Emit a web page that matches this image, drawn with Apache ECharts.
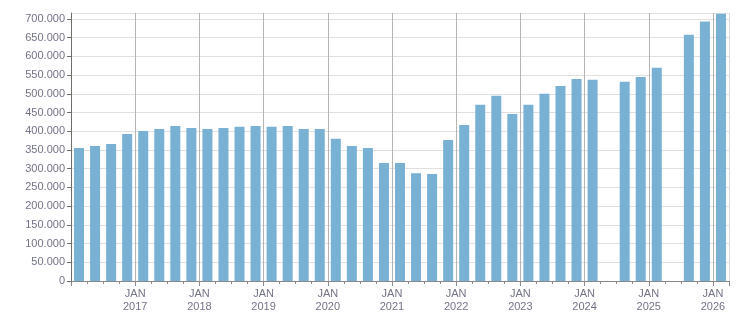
<!DOCTYPE html>
<html>
<head>
<meta charset="utf-8">
<script src="https://cdn.jsdelivr.net/npm/echarts@6/dist/echarts.min.js"></script>
<style>
  html, body { margin: 0; padding: 0; background: #fff; }
  #chart { width: 751px; height: 313px; }
</style>
</head>
<body>
<div id="chart"></div>
<script>
// quarters from Q1 2016 (index 0) to Q1 2026 (index 40), null = no data
var firstYear = 2016;
var values = [
  355, 361, 366, 393, 401, 406, 414, 409, 406, 409, 412, 414,
  412, 414, 406, 406, 380, 361, 355, 315, 315, 288, 286, 377,
  417, 471, 495, 446, 471, 500, 521, 540, 538, null, 532, 545,
  570, null, 658, 693, 714
];
var yTicks = [0, 50, 100, 150, 200, 250, 300, 350, 400, 450, 500, 550, 600, 650, 700];
var monthLabel = 'JAN';

var barData = [];
for (let i = 0; i < values.length; i++) {
  if (values[i] !== null) barData.push([i + 0.5, values[i]]);
}

var txt = '#737388';
var chart = echarts.init(document.getElementById('chart'));
var option = {
  animation: false,
  grid: { left: 71, right: 22, top: 13, bottom: 32 },
  xAxis: [
    {
      type: 'value', min: 0, max: values.length, interval: 4, position: 'bottom',
      axisLine: { show: true, lineStyle: { color: '#8a8a8a' } },
      axisTick: { show: true, length: 5, lineStyle: { color: '#8a8a8a' } },
      axisLabel: {
        color: txt, fontFamily: 'Liberation Sans', fontSize: 11, lineHeight: 13, margin: 6,
        formatter: function (v) {
          if (v <= 0 || v % 4 !== 0) return '';
          return monthLabel + '\n' + (firstYear + v / 4);
        }
      },
      splitLine: {
        show: true,
        lineStyle: {
          width: 1,
          color: ['#b4b4b4', '#b4b4b4', '#b4b4b4', '#b4b4b4', '#b4b4b4', '#b4b4b4',
                  '#b4b4b4', '#b4b4b4', '#b4b4b4', '#b4b4b4', '#b4b4b4', '#dcdcdc']
        }
      }
    },
    {
      type: 'value', min: 0, max: values.length, interval: 1, position: 'bottom',
      axisLine: { show: false },
      axisTick: { show: true, length: 3, lineStyle: { color: '#8a8a8a' } },
      axisLabel: { show: false },
      splitLine: { show: false }
    }
  ],
  yAxis: {
    type: 'value', min: 0, max: 716, interval: 50,
    axisLine: { show: true, lineStyle: { color: '#6e6e6e' } },
    axisTick: { show: true, length: 4, lineStyle: { color: '#6e6e6e' } },
    axisLabel: {
      color: txt, fontFamily: 'Liberation Sans', fontSize: 11, margin: 6, showMaxLabel: false,
      formatter: function (v) {
        if (yTicks.indexOf(v) < 0) return '';
        return v === 0 ? '0' : v + '.000';
      }
    },
    splitLine: { show: true, lineStyle: { color: '#e0e0e0' } }
  },
  series: [
    {
      type: 'bar',
      xAxisIndex: 0,
      data: barData,
      barWidth: 10,
      itemStyle: { color: '#78b1d4' }
    }
  ]
};
chart.setOption(option);
</script>
</body>
</html>
